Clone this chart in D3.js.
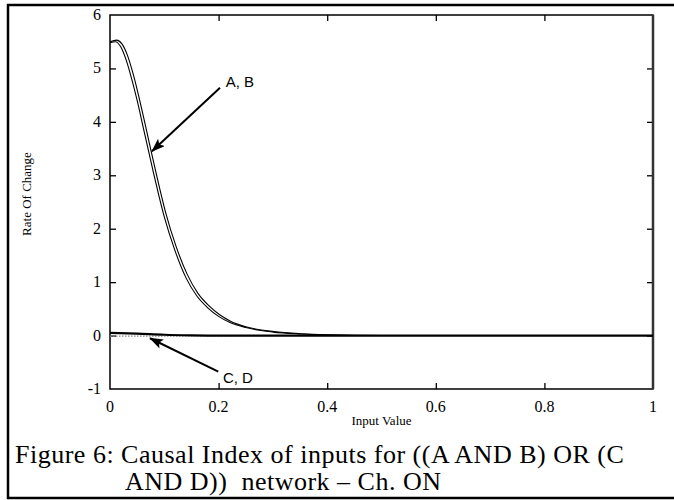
<!DOCTYPE html>
<html>
<head>
<meta charset="utf-8">
<script src="https://cdn.jsdelivr.net/npm/d3@7"></script>
<style>
  body { margin: 0; background: #fff; }
  svg { display: block; }
</style>
</head>
<body>
<div id="chart"></div>
<script>
// Input values (x) and rate of change
var curveAX = [0, 0.01, 0.02, 0.03, 0.04, 0.05, 0.06, 0.07, 0.08, 0.09, 0.10, 0.12, 0.14, 0.16, 0.18, 0.20, 0.22, 0.25, 0.30, 0.35, 0.40, 0.50, 0.60, 0.80, 1.0];
var curveAY = [5.48, 5.50, 5.40, 5.15, 4.80, 4.40, 3.95, 3.50, 3.05, 2.62, 2.22, 1.58, 1.08, 0.74, 0.52, 0.36, 0.25, 0.15, 0.065, 0.03, 0.012, 0.0, 0.0, 0.0, 0.0];
var curveBX = [0, 0.012, 0.022, 0.032, 0.042, 0.052, 0.062, 0.072, 0.082, 0.092, 0.102, 0.122, 0.142, 0.162, 0.182, 0.202, 0.222, 0.252, 0.302, 0.352, 0.40, 0.50, 0.60, 0.80, 1.0];
var curveBY = [5.50, 5.53, 5.46, 5.25, 4.92, 4.52, 4.08, 3.62, 3.17, 2.73, 2.32, 1.66, 1.15, 0.79, 0.56, 0.39, 0.27, 0.16, 0.075, 0.035, 0.015, 0.0, 0.0, 0.0, 0.0];
var curveCX = [0, 0.05, 0.10, 0.15, 0.20, 0.40, 0.60, 0.80, 1.0];
var curveCY = [0.05, 0.035, 0.015, 0.005, 0.0, 0.0, 0.0, 0.0, 0.0];
var curveDX = [0, 0.10, 0.20, 0.30];
var curveDY = [-0.01, -0.01, -0.005, 0.0];

var xTicks = [0, 0.2, 0.4, 0.6, 0.8, 1];
var yTicks = [-1, 0, 1, 2, 3, 4, 5, 6];

// annotation arrows: [label, labelX, labelY, fromX, fromY, toX, toY]
var notes = [
  ["A, B", 0.213, 4.66, 0.2026, 4.64, 0.0773, 3.45],
  ["C, D", 0.208, -0.89, 0.1994, -0.676, 0.0737, -0.05]
];

var captionLine1 = "Figure 6: Causal Index of inputs for ((A AND B) OR (C";
var captionLine2 = "AND D))  network \u2013 Ch. ON";

var W = 674, H = 500;
var margin = {left: 110, right: 21, top: 15, bottom: 111};

var svg = d3.select("#chart").append("svg")
    .attr("width", W)
    .attr("height", H);

// outer frame (top, left, bottom)
svg.append("path")
    .attr("d", "M674,5 H8 V498 H674")
    .attr("fill", "none")
    .attr("stroke", "#000")
    .attr("stroke-width", 2.5);

var x = d3.scaleLinear().domain([0, 1]).range([margin.left, W - margin.right]);
var y = d3.scaleLinear().domain([-1, 6]).range([H - margin.bottom, margin.top]);

var serif = "'Liberation Serif', 'Times New Roman', serif";
var sans = "'Liberation Sans', Arial, sans-serif";

// axes with inward ticks
var tick = 6;
svg.append("g")
    .attr("transform", "translate(0," + y(-1) + ")")
    .call(d3.axisBottom(x).tickValues(xTicks.slice(1, -1)).tickSize(-tick).tickFormat(""));
svg.append("g")
    .attr("transform", "translate(0," + y(6) + ")")
    .call(d3.axisTop(x).tickValues(xTicks.slice(1, -1)).tickSize(-tick).tickFormat(""));
svg.append("g")
    .attr("transform", "translate(" + x(0) + ",0)")
    .call(d3.axisLeft(y).tickValues(yTicks.slice(1, -1)).tickSize(-tick).tickFormat(""));
svg.append("g")
    .attr("transform", "translate(" + x(1) + ",0)")
    .call(d3.axisRight(y).tickValues(yTicks.slice(1, -1)).tickSize(-tick).tickFormat(""));
svg.selectAll(".domain").remove();
svg.selectAll(".tick line").attr("stroke", "#000").attr("stroke-width", 1.3);

// plot box
svg.append("rect")
    .attr("x", x(0)).attr("y", y(6))
    .attr("width", x(1) - x(0)).attr("height", y(-1) - y(6))
    .attr("fill", "none")
    .attr("stroke", "#000")
    .attr("stroke-width", 1.5);
svg.append("line")
    .attr("x1", x(1)).attr("x2", x(1))
    .attr("y1", y(6)).attr("y2", y(-1))
    .attr("stroke", "#333")
    .attr("stroke-width", 2.5);

// tick labels
svg.selectAll(".xlab")
    .data(xTicks)
    .enter().append("text")
    .attr("x", function(d) { return x(d); })
    .attr("y", y(-1) + 23)
    .attr("text-anchor", "middle")
    .style("font-family", serif)
    .style("font-size", "16px")
    .text(function(d) { return d; });

svg.selectAll(".ylab")
    .data(yTicks)
    .enter().append("text")
    .attr("x", x(0) - 9)
    .attr("y", function(d) { return y(d) + 5; })
    .attr("text-anchor", "end")
    .style("font-family", serif)
    .style("font-size", "16px")
    .text(function(d) { return d; });

// axis titles
svg.append("text")
    .attr("x", (x(0) + x(1)) / 2)
    .attr("y", 425)
    .attr("text-anchor", "middle")
    .style("font-family", serif)
    .style("font-size", "13px")
    .text("Input Value");

svg.append("text")
    .attr("transform", "translate(31,194) rotate(-90)")
    .attr("text-anchor", "middle")
    .style("font-family", serif)
    .style("font-size", "13px")
    .text("Rate Of Change");

// curves
function pts(xs, ys) {
  return xs.map(function(v, i) { return [v, ys[i]]; });
}
var line = d3.line()
    .x(function(d) { return x(d[0]); })
    .y(function(d) { return y(d[1]); })
    .curve(d3.curveMonotoneX);

svg.append("path")
    .datum(pts(curveDX, curveDY))
    .attr("d", line)
    .attr("fill", "none")
    .attr("stroke", "#888")
    .attr("stroke-width", 1.2)
    .attr("stroke-dasharray", "1.5,1.5");

svg.append("path")
    .datum(pts(curveCX, curveCY))
    .attr("d", line)
    .attr("fill", "none")
    .attr("stroke", "#000")
    .attr("stroke-width", 2.2);

[pts(curveAX, curveAY), pts(curveBX, curveBY)].forEach(function(p) {
  svg.append("path")
      .datum(p)
      .attr("d", line)
      .attr("fill", "none")
      .attr("stroke", "#000")
      .attr("stroke-width", 1.1);
});

// arrowhead
svg.append("defs").append("marker")
    .attr("id", "head")
    .attr("viewBox", "0 0 14 10")
    .attr("refX", 13).attr("refY", 5)
    .attr("markerWidth", 14).attr("markerHeight", 10)
    .attr("markerUnits", "userSpaceOnUse")
    .attr("orient", "auto")
    .append("path")
    .attr("d", "M0,0 L14,5 L0,10 L3,5 Z")
    .attr("fill", "#000");

notes.forEach(function(n) {
  svg.append("line")
      .attr("x1", x(n[3])).attr("y1", y(n[4]))
      .attr("x2", x(n[5])).attr("y2", y(n[6]))
      .attr("stroke", "#000")
      .attr("stroke-width", 2)
      .attr("marker-end", "url(#head)");
  svg.append("text")
      .attr("x", x(n[1]))
      .attr("y", y(n[2]))
      .style("font-family", sans)
      .style("font-size", "15px")
      .text(n[0]);
});

// caption
svg.append("text")
    .attr("x", 15).attr("y", 463)
    .style("font-family", serif)
    .style("font-size", "26px")
    .style("letter-spacing", "0.5px")
    .text(captionLine1);
svg.append("text")
    .attr("x", 125).attr("y", 490)
    .style("font-family", serif)
    .style("font-size", "26px")
    .style("letter-spacing", "0.5px")
    .style("white-space", "pre")
    .attr("xml:space", "preserve")
    .text(captionLine2);
</script>
</body>
</html>
